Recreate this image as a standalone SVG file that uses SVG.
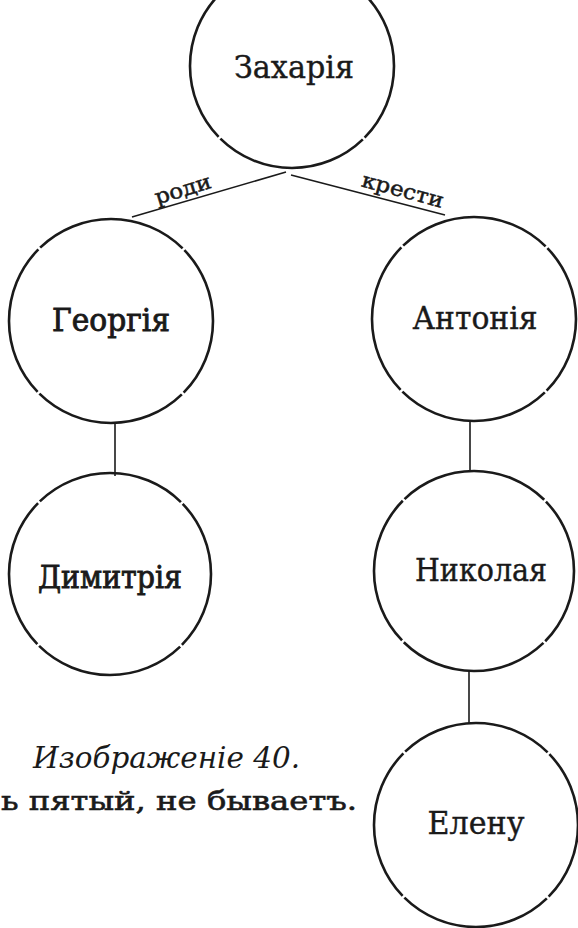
<svg xmlns="http://www.w3.org/2000/svg" width="578" height="928" viewBox="0 0 578 928">
<style>
.bg{fill:#ffffff}
.node circle{fill:none;stroke:#1a1a1a;stroke-width:2.6;stroke-dasharray:88.6 1.4;stroke-dashoffset:44}
.name{font-family:"DejaVu Serif","Liberation Serif",serif;font-size:31px;fill:#1a1a1a;text-anchor:middle;stroke:#1a1a1a;stroke-width:0.4}
.b{stroke-width:0.9}
.edge{stroke:#1a1a1a;stroke-width:1.6;fill:none}
.lbl{font-family:"DejaVu Serif","Liberation Serif",serif;font-size:21px;fill:#1a1a1a;text-anchor:middle;stroke:#1a1a1a;stroke-width:0.5}
.cap{font-family:"DejaVu Serif","Liberation Serif",serif;fill:#1a1a1a}
</style>
<rect class="bg" x="0" y="0" width="578" height="928"/>
<g id="connectors">
  <line class="edge" x1="286" y1="172" x2="132" y2="217"/>
  <line class="edge" x1="291" y1="175" x2="445" y2="215"/>
  <line class="edge" x1="115" y1="422" x2="115" y2="476"/>
  <line class="edge" x1="470" y1="420" x2="470" y2="472"/>
  <line class="edge" x1="469" y1="670" x2="469" y2="724"/>
  <text class="lbl" transform="translate(185,196) rotate(-17)" textLength="58" lengthAdjust="spacingAndGlyphs">роди</text>
  <text class="lbl" transform="translate(401,197) rotate(15)" textLength="84" lengthAdjust="spacingAndGlyphs">крести</text>
</g>
<g id="n-zakharia" class="node">
  <circle cx="292" cy="66" r="102" pathLength="360"/>
  <text class="name" x="294" y="78" textLength="120" lengthAdjust="spacingAndGlyphs">Захарія</text>
</g>
<g id="n-georgia" class="node">
  <circle cx="111" cy="321" r="102" pathLength="360"/>
  <text class="name b" x="111" y="331" textLength="118" lengthAdjust="spacingAndGlyphs">Георгія</text>
</g>
<g id="n-antonia" class="node">
  <circle cx="474" cy="319" r="102" pathLength="360"/>
  <text class="name" x="475" y="329" textLength="125" lengthAdjust="spacingAndGlyphs">Антонія</text>
</g>
<g id="n-dimitria" class="node">
  <circle cx="110" cy="574" r="101" pathLength="360"/>
  <text class="name b" x="110" y="588" textLength="144" lengthAdjust="spacingAndGlyphs">Димитрія</text>
</g>
<g id="n-nikolaya" class="node">
  <circle cx="474" cy="571" r="100" pathLength="360"/>
  <text class="name" x="481" y="581" textLength="132" lengthAdjust="spacingAndGlyphs">Николая</text>
</g>
<g id="n-elenu" class="node">
  <circle cx="476" cy="825" r="102" pathLength="360"/>
  <text class="name" x="476" y="834" textLength="97" lengthAdjust="spacingAndGlyphs">Елену</text>
</g>
<g id="caption">
  <text class="cap" x="33" y="768" font-size="29" font-style="italic" textLength="267" lengthAdjust="spacingAndGlyphs">Изображеніе 40.</text>
  <text class="cap" x="1" y="810" font-size="26" stroke="#1a1a1a" stroke-width="0.6" textLength="356" lengthAdjust="spacingAndGlyphs">ь пятый, не бываетъ.</text>
</g>
</svg>
